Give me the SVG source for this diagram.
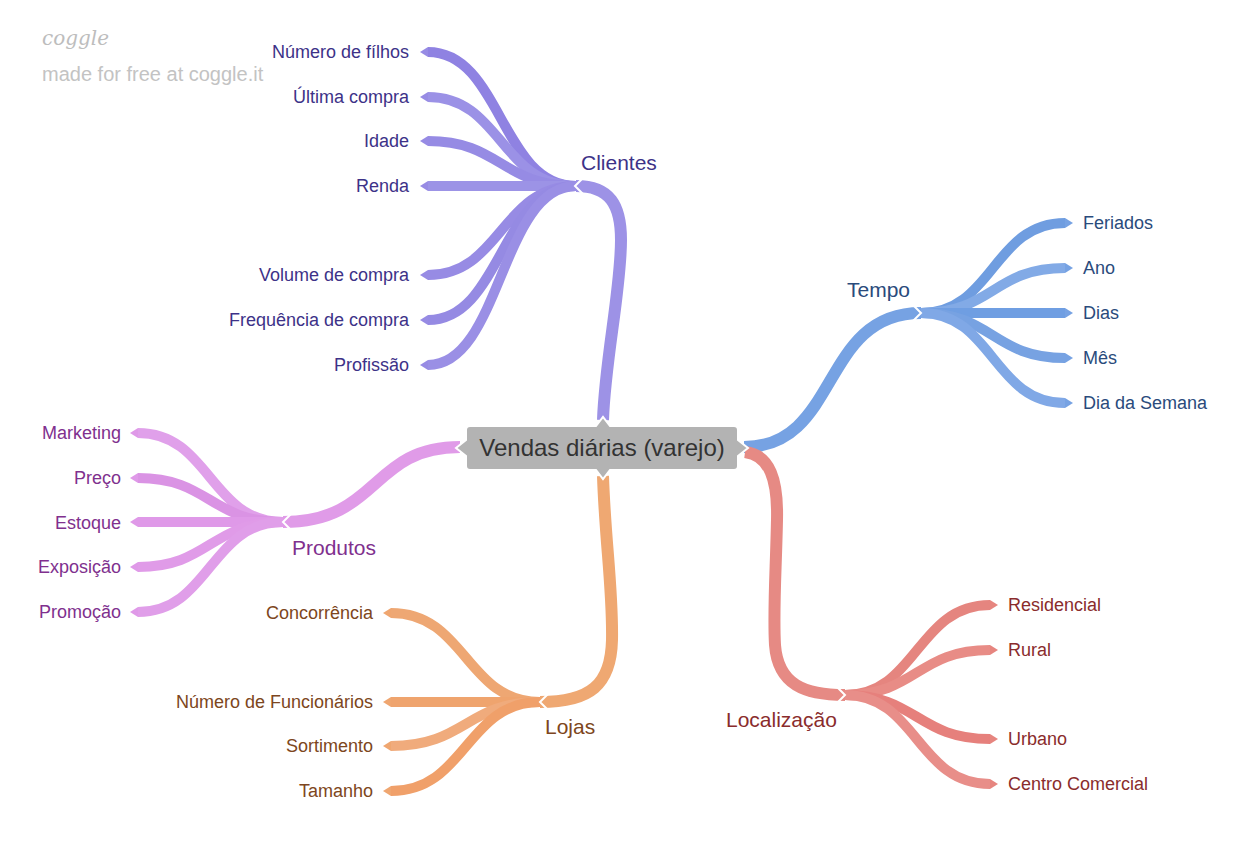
<svg xmlns="http://www.w3.org/2000/svg" width="1250" height="850" viewBox="0 0 1250 850">
<style>
text{font-family:"Liberation Sans",Arial,sans-serif}
.br{fill:none;stroke-linecap:butt}
.m{stroke-width:12}
.c{stroke-width:10}
.lbl{font-size:18px}
.main{font-size:21px}
.chev{fill:none;stroke:#fff;stroke-width:2;stroke-linejoin:miter}
.tc{fill:#3d3288}.tt{fill:#2a4b7c}.tl{fill:#8a2c2c}.tj{fill:#7d4620}.tp{fill:#80308e}
</style>
<defs>
<marker id="mC" viewBox="0 0 8 10" refX="0" refY="5" markerWidth="0.8" markerHeight="1" orient="auto"><path d="M0,0L8,5L0,10z" fill="#978be4"/></marker>
<marker id="mT" viewBox="0 0 8 10" refX="0" refY="5" markerWidth="0.8" markerHeight="1" orient="auto"><path d="M0,0L8,5L0,10z" fill="#76a2e3"/></marker>
<marker id="mL" viewBox="0 0 8 10" refX="0" refY="5" markerWidth="0.8" markerHeight="1" orient="auto"><path d="M0,0L8,5L0,10z" fill="#e6857f"/></marker>
<marker id="mJ" viewBox="0 0 8 10" refX="0" refY="5" markerWidth="0.8" markerHeight="1" orient="auto"><path d="M0,0L8,5L0,10z" fill="#efa670"/></marker>
<marker id="mP" viewBox="0 0 8 10" refX="0" refY="5" markerWidth="0.8" markerHeight="1" orient="auto"><path d="M0,0L8,5L0,10z" fill="#df99e8"/></marker>
</defs>
<rect width="1250" height="850" fill="#fff"/>
<g id="logo">
<text x="42" y="45" font-size="20" font-style="italic" fill="#bdbdbd" style="font-family:'DejaVu Serif',serif">coggle</text>
<text x="42" y="81" font-size="20" fill="#c3c3c3">made for free at coggle.it</text>
</g>
<g id="connectors">
<path class="br m" stroke="#9d92e6" d="M603,420 C605,360 621,290 621,240 C621,205 610,186 576,186"/>
<path class="br m" stroke="#76a2e3" d="M744,447 C840,447 820,313 921,313"/>
<path class="br m" stroke="#e68a84" d="M745,452 C770,455 778,480 777,520 C776,570 773,610 775,645 C778,685 805,695 845,695"/>
<path class="br m" stroke="#efa872" d="M603,476 C605,540 613,590 612,640 C611,685 590,702 540,702"/>
<path class="br m" stroke="#e09be8" d="M460,447 C370,447 380,522 283,522"/>
<path class="br c" stroke="#8f82e2" marker-end="url(#mC)" d="M576,186 C501,186 501,52 428,52"/>
<path class="br c" stroke="#9b91e6" marker-end="url(#mC)" d="M576,186 C501,186 501,97 428,97"/>
<path class="br c" stroke="#968be4" marker-end="url(#mC)" d="M576,186 C501,186 501,141 428,141"/>
<path class="br c" stroke="#9c93e6" marker-end="url(#mC)" d="M576,186 L428,186"/>
<path class="br c" stroke="#978be4" marker-end="url(#mC)" d="M576,186 C501,186 501,275 428,275"/>
<path class="br c" stroke="#958ae3" marker-end="url(#mC)" d="M576,186 C501,186 501,320 428,320"/>
<path class="br c" stroke="#9a8fe5" marker-end="url(#mC)" d="M576,186 C501,186 501,365 428,365"/>
<path class="br c" stroke="#6f9de0" marker-end="url(#mT)" d="M921,313 C993,313 993,223 1065,223"/>
<path class="br c" stroke="#82aae6" marker-end="url(#mT)" d="M921,313 C993,313 993,268 1065,268"/>
<path class="br c" stroke="#6f9ee2" marker-end="url(#mT)" d="M921,313 L1065,313"/>
<path class="br c" stroke="#77a2e2" marker-end="url(#mT)" d="M921,313 C993,313 993,358 1065,358"/>
<path class="br c" stroke="#80a8e6" marker-end="url(#mT)" d="M921,313 C993,313 993,403 1065,403"/>
<path class="br c" stroke="#e5857f" marker-end="url(#mL)" d="M845,695 C917,695 917,605 990,605"/>
<path class="br c" stroke="#e88c86" marker-end="url(#mL)" d="M845,695 C917,695 917,650 990,650"/>
<path class="br c" stroke="#e6807c" marker-end="url(#mL)" d="M845,695 C917,695 917,739 990,739"/>
<path class="br c" stroke="#e88e89" marker-end="url(#mL)" d="M845,695 C917,695 917,784 990,784"/>
<path class="br c" stroke="#eea773" marker-end="url(#mJ)" d="M540,702 C466,702 466,613 391,613"/>
<path class="br c" stroke="#efa46e" marker-end="url(#mJ)" d="M540,702 L391,702"/>
<path class="br c" stroke="#f0ab7c" marker-end="url(#mJ)" d="M540,702 C466,702 466,746 391,746"/>
<path class="br c" stroke="#f0a06a" marker-end="url(#mJ)" d="M540,702 C466,702 466,791 391,791"/>
<path class="br c" stroke="#e0a0ea" marker-end="url(#mP)" d="M283,522 C210,522 210,433 138,433"/>
<path class="br c" stroke="#da93e4" marker-end="url(#mP)" d="M283,522 C210,522 210,478 138,478"/>
<path class="br c" stroke="#df99e8" marker-end="url(#mP)" d="M283,522 L138,522"/>
<path class="br c" stroke="#e09be8" marker-end="url(#mP)" d="M283,522 C210,522 210,567 138,567"/>
<path class="br c" stroke="#e09ee9" marker-end="url(#mP)" d="M283,522 C210,522 210,612 138,612"/>
<polyline class="chev" points="583,178 575,186 583,194"/>
<polyline class="chev" points="913,305 921,313 913,321"/>
<polyline class="chev" points="837,687 845,695 837,703"/>
<polyline class="chev" points="548,694 540,702 548,710"/>
<polyline class="chev" points="291,514 283,522 291,530"/>
</g>
<g id="center">
<path d="M470,426 H596 L603,417 L610,426 H734 Q738,426 738,430 V440 L748,448 L738,456 V466 Q738,470 734,470 H610 L603,479 L596,470 H470 Q466,470 466,466 V456 L456,448 L466,440 V430 Q466,426 470,426 Z" fill="#b3b3b3" stroke="#fff" stroke-width="2" stroke-linejoin="miter"/>
<text x="602" y="456" font-size="24" fill="#333" text-anchor="middle">Vendas diárias (varejo)</text>
</g>
<g id="clientes">
<text class="main tc" x="581" y="170">Clientes</text>
<g class="lbl tc" text-anchor="end">
<text x="409" y="58">Número de fílhos</text>
<text x="409" y="103">Última compra</text>
<text x="409" y="147">Idade</text>
<text x="409" y="192">Renda</text>
<text x="409" y="281">Volume de compra</text>
<text x="409" y="326">Frequência de compra</text>
<text x="409" y="371">Profissão</text>
</g>
</g>
<g id="tempo">
<text class="main tt" x="847" y="297">Tempo</text>
<g class="lbl tt">
<text x="1083" y="229">Feriados</text>
<text x="1083" y="274">Ano</text>
<text x="1083" y="319">Dias</text>
<text x="1083" y="364">Mês</text>
<text x="1083" y="409">Dia da Semana</text>
</g>
</g>
<g id="localizacao">
<text class="main tl" x="726" y="727">Localização</text>
<g class="lbl tl">
<text x="1008" y="611">Residencial</text>
<text x="1008" y="656">Rural</text>
<text x="1008" y="745">Urbano</text>
<text x="1008" y="790">Centro Comercial</text>
</g>
</g>
<g id="lojas">
<text class="main tj" x="545" y="734">Lojas</text>
<g class="lbl tj" text-anchor="end">
<text x="373" y="619">Concorrência</text>
<text x="373" y="708">Número de Funcionários</text>
<text x="373" y="752">Sortimento</text>
<text x="373" y="797">Tamanho</text>
</g>
</g>
<g id="produtos">
<text class="main tp" x="292" y="555">Produtos</text>
<g class="lbl tp" text-anchor="end">
<text x="121" y="439">Marketing</text>
<text x="121" y="484">Preço</text>
<text x="121" y="529">Estoque</text>
<text x="121" y="573">Exposição</text>
<text x="121" y="618">Promoção</text>
</g>
</g>
</svg>
